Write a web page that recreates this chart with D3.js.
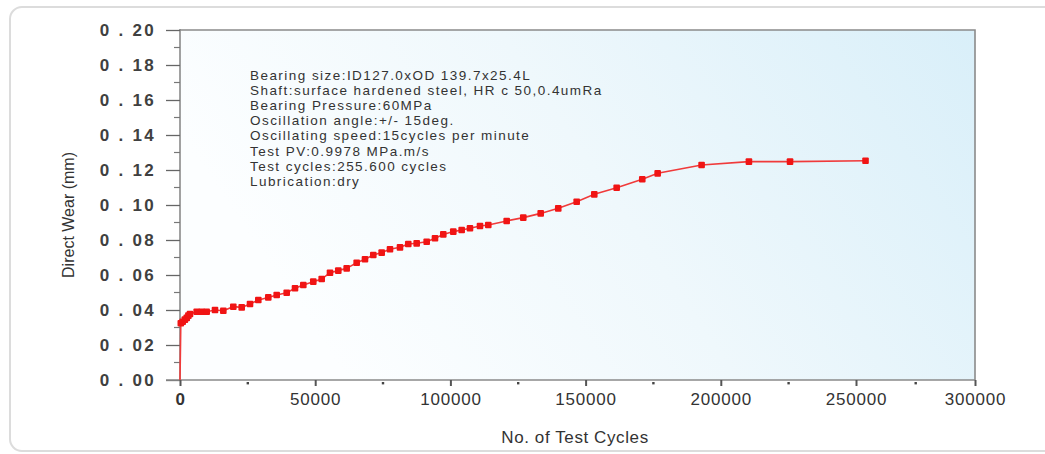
<!DOCTYPE html>
<html>
<head>
<meta charset="utf-8">
<script src="https://cdn.jsdelivr.net/npm/d3@7"></script>
<style>
  html, body { margin: 0; padding: 0; background: #fff; }
  svg { display: block; }
  .note { font-family: Arial, "Liberation Sans", sans-serif; font-size: 13.5px; fill: #333; letter-spacing: 1.45px; }
</style>
</head>
<body>
<div id="chart"></div>
<script>
// cycles vs direct wear (mm)
var cycles = [0, 300, 1000, 1800, 2500, 3100, 3700, 6170, 8020, 9870, 12940, 16020,
  19710, 22820, 25890, 28960, 32650, 35760, 39460, 42530, 45600, 49290, 52400,
  55470, 58540, 61640, 65340, 68410, 71480, 74590, 77660, 81360, 84420, 87530,
  91230, 94300, 97370, 101070, 104170, 107240, 110940, 114010, 120810, 126950,
  133390, 139890, 146700, 153210, 161490, 170960, 176650, 192900, 210400,
  225600, 254000];
var wear = [0, 0.0324, 0.0333, 0.0345, 0.0355, 0.0368, 0.0377, 0.039, 0.039, 0.039,
  0.040, 0.0396, 0.0419, 0.0415, 0.0434, 0.0457, 0.0472, 0.0486, 0.0499, 0.0524,
  0.0543, 0.0562, 0.0577, 0.0613, 0.0625, 0.0638, 0.0670, 0.0690, 0.0714, 0.0728,
  0.0747, 0.0758, 0.0777, 0.0781, 0.0790, 0.0810, 0.0832, 0.0848, 0.0857, 0.0867,
  0.0880, 0.0886, 0.0909, 0.0928, 0.0952, 0.0981, 0.1019, 0.1061, 0.1099, 0.1147,
  0.1181, 0.1229, 0.1248, 0.1248, 0.1253];

var xTicks = [0, 50000, 100000, 150000, 200000, 250000, 300000];
var xMinor = [25000, 75000, 125000, 175000, 225000, 275000];
var yTicks = [0, 0.02, 0.04, 0.06, 0.08, 0.10, 0.12, 0.14, 0.16, 0.18, 0.20];
var yMinor = [0.01, 0.03, 0.05, 0.07, 0.09, 0.11, 0.13, 0.15, 0.17, 0.19];

var notes = [
  "Bearing size:ID127.0xOD 139.7x25.4L",
  "Shaft:surface hardened steel, HR c 50,0.4umRa",
  "Bearing Pressure:60MPa",
  "Oscillation angle:+/- 15deg.",
  "Oscillating speed:15cycles per minute",
  "Test PV:0.9978 MPa.m/s",
  "Test cycles:255.600 cycles",
  "Lubrication:dry"
];

(function() {
    var width = 1045, height = 454;
    var pLeft = 180, pRight = 975, pTop = 30, pBottom = 380;
    var font = "Arial, 'Liberation Sans', sans-serif";

    var svg = d3.select("#chart").append("svg")
        .attr("width", width)
        .attr("height", height);

    // outer card
    svg.append("rect")
        .attr("x", 10).attr("y", 7)
        .attr("width", 1050).attr("height", 444)
        .attr("rx", 12)
        .attr("fill", "#fff")
        .attr("stroke", "#dcdcdc")
        .attr("stroke-width", 2);

    var grad = svg.append("defs").append("linearGradient")
        .attr("id", "bg")
        .attr("x1", "0").attr("y1", "0.3")
        .attr("x2", "1").attr("y2", "0");
    grad.append("stop").attr("offset", "0%").attr("stop-color", "#fcfeff");
    grad.append("stop").attr("offset", "45%").attr("stop-color", "#eff8fc");
    grad.append("stop").attr("offset", "100%").attr("stop-color", "#d9eff9");

    // the source axis is not evenly spaced past 250000
    var x = d3.scaleLinear()
        .domain([0, 250000, 300000])
        .range([pLeft, 856, pRight]);

    var y = d3.scaleLinear()
        .domain([0, 0.2])
        .range([pBottom, pTop]);

    svg.append("rect")
        .attr("x", pLeft).attr("y", pTop)
        .attr("width", pRight - pLeft).attr("height", pBottom - pTop)
        .attr("fill", "url(#bg)");

    // top + right frame
    svg.append("path")
        .attr("d", "M" + pLeft + "," + pTop + "H" + pRight + "V" + pBottom)
        .attr("fill", "none")
        .attr("stroke", "#8a8a8a")
        .attr("stroke-width", 1.6);

    // y axis
    var yAxis = d3.axisLeft(y)
        .tickValues(yTicks)
        .tickSize(14)
        .tickPadding(10)
        .tickFormat(function(d) {
            return d3.format(".2f")(d).replace(".", "\u00a0.\u00a0");
        });

    var gY = svg.append("g")
        .attr("transform", "translate(" + pLeft + ",0)")
        .call(yAxis);
    gY.select(".domain").attr("stroke", "#8a8a8a").attr("stroke-width", 1.6)
        .attr("d", "M0," + (pTop - 1) + "V" + (pBottom + 1));
    gY.selectAll(".tick line").attr("stroke", "#666").attr("stroke-width", 1.3);
    gY.selectAll(".tick text")
        .attr("fill", "#404040")
        .style("font-family", font)
        .style("font-size", "17px")
        .style("font-weight", "bold")
        .style("letter-spacing", "2.3px");

    svg.append("g")
        .selectAll("line")
        .data(yMinor)
        .join("line")
        .attr("x1", pLeft - 6).attr("x2", pLeft)
        .attr("y1", function(d) { return y(d); })
        .attr("y2", function(d) { return y(d); })
        .attr("stroke", "#777")
        .attr("stroke-width", 1.2);

    // x axis
    var xAxis = d3.axisBottom(x)
        .tickValues(xTicks)
        .tickSize(6)
        .tickPadding(7)
        .tickFormat(d3.format("d"));

    var gX = svg.append("g")
        .attr("transform", "translate(0," + pBottom + ")")
        .call(xAxis);
    gX.select(".domain").attr("stroke", "#8a8a8a").attr("stroke-width", 1.6)
        .attr("d", "M" + (pLeft - 14) + ",0H" + pRight);
    gX.selectAll(".tick line").attr("stroke", "#555").attr("stroke-width", 2);
    gX.selectAll(".tick text")
        .attr("fill", "#333")
        .style("font-family", font)
        .style("font-size", "17px")
        .style("letter-spacing", "0.8px");
    gX.selectAll(".tick text").filter(function(d) { return d === 0; })
        .style("font-weight", "bold");

    svg.append("g")
        .selectAll("rect")
        .data(xMinor)
        .join("rect")
        .attr("x", function(d) { return x(d) - 1; })
        .attr("y", pBottom + 2)
        .attr("width", 2.4).attr("height", 2.4)
        .attr("fill", "#444");

    // titles
    svg.append("text")
        .attr("x", 575).attr("y", 443)
        .attr("text-anchor", "middle")
        .attr("fill", "#333")
        .style("font-family", font)
        .style("font-size", "17px")
        .style("letter-spacing", "0.6px")
        .text("No. of Test Cycles");

    svg.append("text")
        .attr("transform", "translate(74,215) rotate(-90)")
        .attr("text-anchor", "middle")
        .attr("fill", "#333")
        .style("font-family", font)
        .style("font-size", "16px")
        .text("Direct Wear (mm)");

    // notes
    svg.append("g")
        .selectAll("text")
        .data(notes)
        .join("text")
        .attr("class", "note")
        .attr("x", 250)
        .attr("y", function(d, i) { return 80 + i * 15.1; })
        .text(function(d) { return d; });

    // series
    var pts = cycles.map(function(c, i) { return [c, wear[i]]; });

    svg.append("path")
        .datum(pts)
        .attr("fill", "none")
        .attr("stroke", "#f03a3a")
        .attr("stroke-width", 1.6)
        .attr("d", d3.line()
            .x(function(d) { return x(d[0]); })
            .y(function(d) { return y(d[1]); }));

    svg.append("g")
        .selectAll("rect")
        .data(pts.filter(function(d) { return d[1] > 0; }))
        .join("rect")
        .attr("x", function(d) { return x(d[0]) - 3.3; })
        .attr("y", function(d) { return y(d[1]) - 3.3; })
        .attr("width", 6.6).attr("height", 6.6)
        .attr("rx", 1)
        .attr("fill", "#f01414");
})();
</script>
</body>
</html>
